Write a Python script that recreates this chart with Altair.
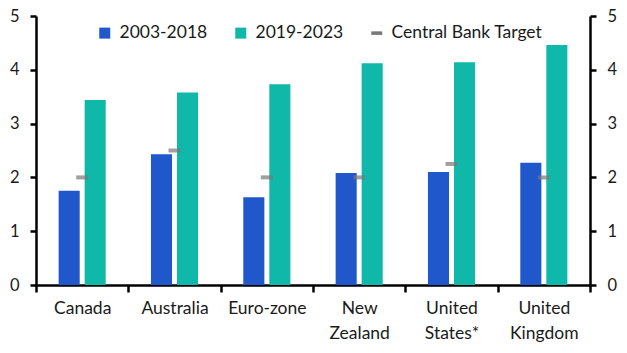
import altair as alt
import pandas as pd

countries = ["Canada", "Australia", "Euro-zone", "New Zealand", "United States*", "United Kingdom"]
series = ["2003-2018", "2019-2023", "Central Bank Target"]
avg_2003_2018 = [1.75, 2.43, 1.63, 2.08, 2.10, 2.27]
avg_2019_2023 = [3.44, 3.58, 3.73, 4.12, 4.14, 4.46]
targets = [2.0, 2.5, 2.0, 2.0, 2.25, 2.0]

BLUE = "#2058CC"
TEAL = "#0FB8A9"
GREY = "#777777"
FONT = "Lato"
TXT = "#1a1a1a"

bars_df = pd.DataFrame(
    [{"country": c, "series": series[0], "value": v} for c, v in zip(countries, avg_2003_2018)]
    + [{"country": c, "series": series[1], "value": v} for c, v in zip(countries, avg_2019_2023)]
)
target_df = pd.DataFrame({"country": countries, "target": targets})
legend_df = pd.DataFrame({"series": series})

dash = "M-1,-0.32H1V0.32H-1Z"
color_scale = alt.Scale(domain=series, range=[BLUE, TEAL, GREY])

legend_props = dict(
    title=None, orient="none", legendX=60, legendY=8, direction="horizontal",
    symbolSize=121, symbolOpacity=1, symbolStrokeWidth=0, labelFontSize=17.5,
    labelFont=FONT, labelColor=TXT, columnPadding=24, labelOffset=6,
)

x_enc = alt.X(
    "country:N",
    sort=countries,
    scale=alt.Scale(paddingInner=0, paddingOuter=0),
    axis=alt.Axis(
        title=None, tickBand="extent", labelAngle=0,
        labelExpr="split(datum.label, ' ')",
        tickSize=7, labelPadding=7, labelFontSize=17.5, labelLineHeight=25,
        labelBaseline="top",
    ),
)

y_left = alt.Y(
    "value:Q",
    scale=alt.Scale(domain=[0, 5], nice=False),
    axis=alt.Axis(title=None, values=[0, 1, 2, 3, 4, 5], grid=False, tickSize=6,
                  labelPadding=11, labelFontSize=16.5),
)

bars = alt.Chart(bars_df).mark_bar().encode(
    x=x_enc,
    xOffset=alt.XOffset("series:N", sort=series[:2],
                        scale=alt.Scale(paddingInner=0.19, paddingOuter=0.87)),
    y=y_left,
    color=alt.Color("series:N", scale=color_scale, legend=alt.Legend(**legend_props)),
)

ticks = alt.Chart(target_df).mark_tick(size=12, thickness=4, color=GREY).encode(
    x=alt.X("country:N", sort=countries),
    y=alt.Y(
        "target:Q",
        scale=alt.Scale(domain=[0, 5], nice=False),
        axis=alt.Axis(title=None, orient="right", values=[0, 1, 2, 3, 4, 5], grid=False,
                      tickSize=6, labelPadding=11, labelFontSize=16.5),
    ),
)

legend_layer = alt.Chart(legend_df).mark_point(filled=True, opacity=0).encode(
    color=alt.Color("series:N", scale=color_scale, legend=alt.Legend(**legend_props)),
    shape=alt.Shape(
        "series:N",
        scale=alt.Scale(domain=series, range=["square", "square", dash]),
        legend=alt.Legend(**legend_props),
    ),
)

chart = (
    alt.layer(bars, ticks, legend_layer)
    .resolve_scale(y="independent")
    .properties(
        width=554, height=269,
        autosize=alt.AutoSizeParams(type="none"),
        padding={"left": 36, "top": 16, "right": 37, "bottom": 68},
        background="white",
    )
    .configure_view(stroke=None)
    .configure_axis(
        labelFont=FONT, labelColor=TXT, domainColor="black", tickColor="black",
        domainWidth=2.5, tickWidth=2.5,
    )
)

chart.save("out.html", embed_options={"renderer": "svg", "actions": False})
